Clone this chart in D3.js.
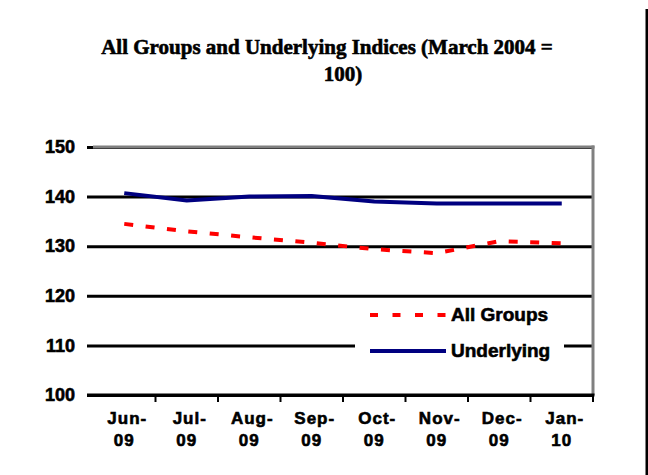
<!DOCTYPE html>
<html>
<head>
<meta charset="utf-8">
<script src="https://cdn.jsdelivr.net/npm/d3@7"></script>
<style>
  html, body { margin: 0; padding: 0; background: #fff; }
  svg { display: block; }
</style>
</head>
<body>
<script>
const categories = ["Jun-09", "Jul-09", "Aug-09", "Sep-09", "Oct-09", "Nov-09", "Dec-09", "Jan-10"];
const allGroups = [134.5, 133.0, 131.8, 130.7, 129.4, 128.6, 131.0, 130.6];
const underlying = [140.7, 139.2, 140.0, 140.1, 139.0, 138.6, 138.6, 138.6];
const yTicks = [100, 110, 120, 130, 140, 150];
const seriesNames = ["All Groups", "Underlying"];
const titleLines = ["All Groups and Underlying Indices (March 2004 =", "100)"];

(function () {
const W = 648, H = 475;
const pL = 93, pR = 593, pT = 147, pB = 395;
const sans = "'Liberation Sans', Arial, sans-serif";
const serif = "'Liberation Serif', 'Times New Roman', serif";

const svg = d3.select("body").append("svg").attr("width", W).attr("height", H);

const x = d3.scaleBand().domain(categories).range([pL, pR]).padding(0);
const y = d3.scaleLinear().domain([100, 150]).range([pB, pT]);

function heavy(sel) {
  return sel.attr("fill", "#000").attr("stroke", "#000").attr("stroke-width", 0.6);
}

// title
heavy(svg.append("text").attr("x", 327).attr("y", 54).attr("text-anchor", "middle")
  .style("font-family", serif).style("font-weight", "bold").style("font-size", "21px")
  .text(titleLines[0]));
heavy(svg.append("text").attr("x", 343).attr("y", 81).attr("text-anchor", "middle")
  .style("font-family", serif).style("font-weight", "bold").style("font-size", "21px")
  .text(titleLines[1]));

// y axis with gridlines
const yAxis = d3.axisLeft(y).tickValues(yTicks).tickSize(-(pR - 87)).tickPadding(12);
const gy = svg.append("g").attr("transform", "translate(87,0)").call(yAxis);
gy.select(".domain").remove();
gy.selectAll(".tick line").attr("stroke", "#000").attr("stroke-width", 3);
heavy(gy.selectAll(".tick text")
  .style("font-family", sans).style("font-weight", "bold").style("font-size", "18px"));

// gray top border and right border
svg.append("line").attr("x1", pL).attr("x2", pR + 1.5).attr("y1", y(150)).attr("y2", y(150))
  .attr("stroke", "#808080").attr("stroke-width", 3);
svg.append("line").attr("x1", pR).attr("x2", pR).attr("y1", y(150) - 1.5).attr("y2", pB)
  .attr("stroke", "#808080").attr("stroke-width", 3);

// x axis line
svg.append("line").attr("x1", 87).attr("x2", pR + 1.5).attr("y1", pB).attr("y2", pB)
  .attr("stroke", "#000").attr("stroke-width", 3);
// boundary ticks
svg.append("g").selectAll("line").data(categories).join("line")
  .attr("x1", d => x(d) + x.bandwidth()).attr("x2", d => x(d) + x.bandwidth())
  .attr("y1", pB).attr("y2", pB + 7)
  .attr("stroke", "#000").attr("stroke-width", 2);

// x labels (two lines)
const xAxis = d3.axisBottom(x).tickSize(0).tickPadding(0);
const gx = svg.append("g").attr("transform", `translate(0,${pB})`).call(xAxis);
gx.select(".domain").remove();
gx.selectAll(".tick text").each(function (d) {
  const t = d3.select(this);
  const parts = d.split("-");
  t.text(null).attr("y", 0).attr("dy", null)
    .style("font-family", sans).style("font-weight", "bold").style("font-size", "17px")
    .style("letter-spacing", "1px");
  heavy(t);
  t.append("tspan").attr("x", 3).attr("y", 29).text(parts[0] + "-");
  t.append("tspan").attr("x", 0).attr("y", 51).text(parts[1]);
});

// legend background
svg.append("rect").attr("x", 355).attr("y", 300).attr("width", 209).attr("height", 72).attr("fill", "#fff");

// lines
const line = d3.line().x((d, i) => x(categories[i]) + x.bandwidth() / 2).y(d => y(d));
svg.append("path").datum(underlying).attr("d", line).attr("fill", "none")
  .attr("stroke", "#000080").attr("stroke-width", 4);
svg.append("path").datum(allGroups).attr("d", line).attr("fill", "none")
  .attr("stroke", "#ff0000").attr("stroke-width", 4).attr("stroke-dasharray", "9,12.5");

// legend
const leg = [
  { name: seriesNames[0], color: "#ff0000", dash: "8,14.5", ly: 315 },
  { name: seriesNames[1], color: "#000080", dash: null, ly: 351 }
];
leg.forEach(l => {
  svg.append("line").attr("x1", 370).attr("x2", 446).attr("y1", l.ly).attr("y2", l.ly)
    .attr("stroke", l.color).attr("stroke-width", 4).attr("stroke-dasharray", l.dash);
  heavy(svg.append("text").attr("x", 451).attr("y", l.ly + 6)
    .style("font-family", sans).style("font-weight", "bold").style("font-size", "19px")
    .text(l.name));
});

// right frame line
svg.append("line").attr("x1", 647).attr("x2", 647).attr("y1", 9).attr("y2", H)
  .attr("stroke", "#000").attr("stroke-width", 3);
})();
</script>
</body>
</html>
